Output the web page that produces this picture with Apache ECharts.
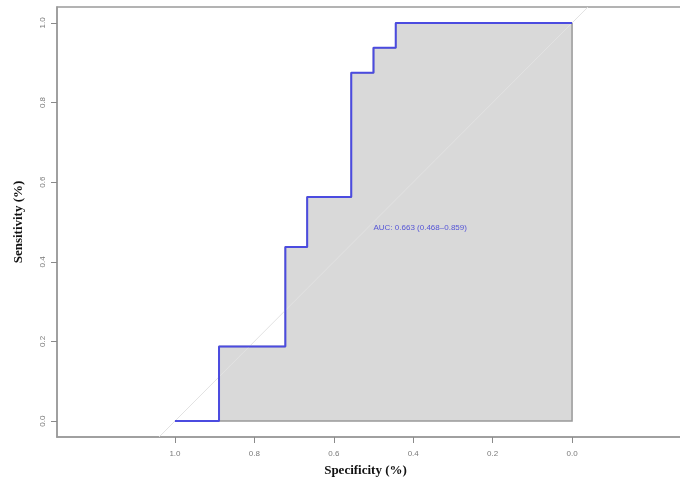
<!DOCTYPE html>
<html>
<head>
    <meta charset="UTF-8">
    <title>ROC</title>
    <script type="text/javascript" src="https://cdn.jsdelivr.net/npm/echarts@6/dist/echarts.min.js"></script>
    <style>
        body { margin: 0; padding: 0; background: #fff; }
        #roc { width: 680px; height: 481px; }
    </style>
</head>
<body>
<div id="roc"></div>
<script>
    // specificity / sensitivity steps of the ROC curve
    var specificity = [1.0, 0.889, 0.889, 0.722, 0.722, 0.667, 0.667, 0.556, 0.556, 0.5, 0.5, 0.444, 0.444, 0.0];
    var sensitivity = [0.0, 0.0, 0.1875, 0.1875, 0.4375, 0.4375, 0.5625, 0.5625, 0.875, 0.875, 0.9375, 0.9375, 1.0, 1.0];
    var diagSpec = [1.04, -0.04];
    var diagSens = [-0.04, 1.04];
    var tickValues = [0, 0.2, 0.4, 0.6, 0.8, 1.0];
    var aucText = 'AUC: 0.663 (0.468\u20130.859)';
    var aucPos = [0.5, 0.486];

    var rocPoints = specificity.map(function (s, i) { return [s, sensitivity[i]]; });
    var polyPoints = rocPoints.concat([[0, 0]]);
    var diagPoints = diagSpec.map(function (s, i) { return [s, diagSens[i]]; });

    var chart = echarts.init(document.getElementById('roc'), null, {renderer: 'canvas'});

    var tickLabel = {
        customValues: tickValues,
        color: '#7a7a7a',
        fontSize: 8,
        fontFamily: 'Liberation Sans',
        formatter: function (v) { return v.toFixed(1); }
    };
    var tickStyle = {show: true, customValues: tickValues, length: 6, lineStyle: {color: '#8a8a8a', width: 1}};

    chart.setOption({
        animation: false,
        grid: {
            left: 57, top: 7, width: 633, height: 430,
            outerBoundsMode: 'none', containLabel: false,
            show: true, borderColor: '#9a9a9a', borderWidth: 1.5, backgroundColor: 'transparent'
        },
        xAxis: {
            type: 'value', inverse: true, min: -0.297, max: 1.297,
            splitLine: {show: false},
            axisLine: {show: true, onZero: false, lineStyle: {color: '#9a9a9a', width: 1.5}},
            axisTick: tickStyle,
            axisLabel: Object.assign({margin: 13}, tickLabel),
            name: 'Specificity (%)', nameLocation: 'middle', nameGap: 27,
            nameTextStyle: {fontFamily: 'Liberation Serif', fontWeight: 'bold', fontSize: 13, color: '#111', padding: [0, 16, 0, 0]}
        },
        yAxis: {
            type: 'value', min: -0.04, max: 1.04,
            splitLine: {show: false},
            axisLine: {show: true, onZero: false, lineStyle: {color: '#9a9a9a', width: 1.5}},
            axisTick: tickStyle,
            axisLabel: Object.assign({margin: 10, rotate: 90}, tickLabel),
            name: 'Sensitivity (%)', nameLocation: 'middle', nameGap: 32,
            nameTextStyle: {fontFamily: 'Liberation Serif', fontWeight: 'bold', fontSize: 13, color: '#111'}
        },
        series: [
            {
                type: 'custom',
                data: [0],
                clip: true,
                z: 1,
                renderItem: function (params, api) {
                    return {
                        type: 'polygon',
                        shape: {points: polyPoints.map(function (p) { return api.coord(p); })},
                        style: {fill: '#d9d9d9', stroke: '#999999', lineWidth: 1.5}
                    };
                }
            },
            {
                type: 'line',
                data: diagPoints,
                symbol: 'none',
                clip: true,
                z: 2,
                lineStyle: {color: '#e2e2e2', width: 1}
            },
            {
                type: 'line',
                data: rocPoints,
                symbol: 'none',
                z: 3,
                lineStyle: {color: '#4b4be0', width: 2}
            },
            {
                type: 'scatter',
                data: [aucPos],
                symbolSize: 0,
                z: 4,
                label: {
                    show: true, position: 'right', distance: 0,
                    formatter: aucText,
                    color: '#3232d6', fontSize: 8, fontFamily: 'Liberation Sans'
                }
            }
        ]
    });
</script>
</body>
</html>
